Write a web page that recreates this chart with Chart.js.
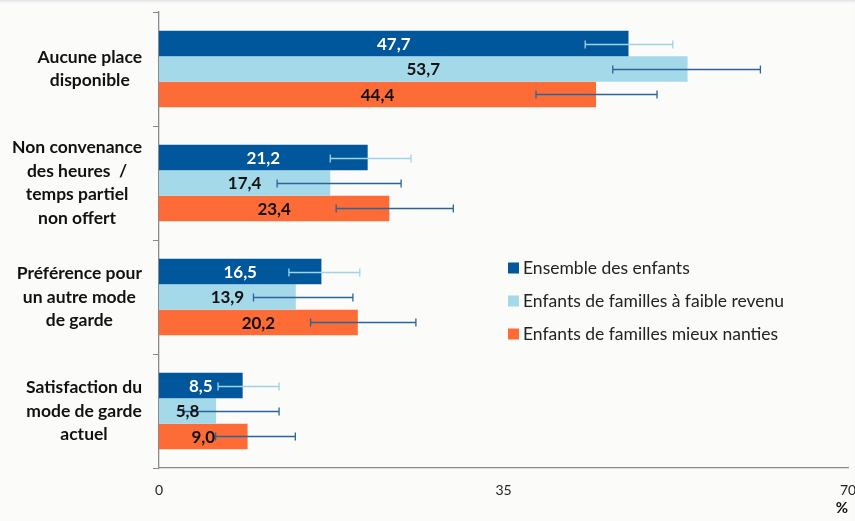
<!DOCTYPE html>
<html><head><meta charset="utf-8">
<script src="https://cdn.jsdelivr.net/npm/chart.js@4.4.1/dist/chart.umd.min.js"></script>
<style>
html,body{margin:0;padding:0;background:#fbfbf9;}
#wrap{width:855px;height:521px;position:relative;box-shadow:inset 0 3px 3px -2px #d3dbe1;}
canvas{display:block;}
</style></head><body>
<div id="wrap"><canvas id="c" width="855" height="521"></canvas></div>
<script>
// ---- data ----
const categories = [
  ["Aucune place", "disponible"],
  ["Non convenance", "des heures  /", "temps partiel", "non offert"],
  ["Préférence pour", "un autre mode", "de garde"],
  ["Satisfaction du", "mode de garde", "actuel"]
];
const seriesNames = ["Ensemble des enfants", "Enfants de familles à faible revenu", "Enfants de familles mieux nanties"];
const ensemble = [47.7, 21.2, 16.5, 8.5];
const faibleRevenu = [53.7, 17.4, 13.9, 5.8];
const mieuxNanties = [44.4, 23.4, 20.2, 9.0];
const ensembleLow = [43.3, 17.4, 13.2, 6.0];
const ensembleHigh = [52.2, 25.6, 20.4, 12.2];
const faibleLow = [46.1, 12.0, 9.6, 2.5];
const faibleHigh = [61.1, 24.6, 19.7, 12.2];
const mieuxLow = [38.3, 18.0, 15.4, 5.75];
const mieuxHigh = [50.6, 29.9, 26.1, 13.85];
const xTicks = [0, 35, 70];
const axisUnit = "%";

// ---- styles ----
const barColors = ["#01579b", "#a4d9ea", "#fd6b37"];
const errColors = ["#9fd3e7", "#2b639b", "#2b639b"];
const labelColors = ["#ffffff", "#111111", "#111111"];
const values = [ensemble, faibleRevenu, mieuxNanties];
const lows = [ensembleLow, faibleLow, mieuxLow];
const highs = [ensembleHigh, faibleHigh, mieuxHigh];
const FONT = "Lato";

const overlay = {
  id: "overlay",
  afterDatasetsDraw(chart) {
    const ctx = chart.ctx, xs = chart.scales.x;
    ctx.save();
    // error bars
    values.forEach((vals, i) => {
      const meta = chart.getDatasetMeta(i);
      meta.data.forEach((bar, j) => {
        const lo = xs.getPixelForValue(lows[i][j]);
        const hi = xs.getPixelForValue(highs[i][j]);
        const y = Math.round(bar.y) + 0.5;
        ctx.strokeStyle = errColors[i];
        ctx.lineWidth = 1.3;
        ctx.beginPath();
        ctx.moveTo(lo, y); ctx.lineTo(hi, y);
        ctx.moveTo(lo, y - 4); ctx.lineTo(lo, y + 4);
        ctx.moveTo(hi, y - 4); ctx.lineTo(hi, y + 4);
        ctx.stroke();
      });
    });
    // value labels
    ctx.font = "bold 17px " + FONT;
    ctx.textAlign = "center";
    ctx.textBaseline = "middle";
    values.forEach((vals, i) => {
      const meta = chart.getDatasetMeta(i);
      meta.data.forEach((bar, j) => {
        ctx.fillStyle = labelColors[i];
        ctx.fillText(vals[j].toFixed(1).replace(".", ","), (bar.base + bar.x) / 2, bar.y + 1);
      });
    });
    ctx.restore();
  },
  afterDraw(chart) {
    const ctx = chart.ctx, ys = chart.scales.y;
    ctx.save();
    // category labels (block right-aligned, lines centred)
    ctx.font = "bold 17.5px " + FONT;
    ctx.fillStyle = "#111111";
    ctx.textAlign = "center";
    ctx.textBaseline = "middle";
    const lh = 23.5;
    categories.forEach((lines, i) => {
      const yc = ys.getPixelForValue(i);
      const w = Math.max(...lines.map(l => ctx.measureText(l.trim()).width));
      const cx = ys.right - 17 - w / 2;
      lines.forEach((l, k) => {
        ctx.fillText(l, cx, yc + (k - (lines.length - 1) / 2) * lh);
      });
    });
    // legend
    ctx.font = "17.5px " + FONT;
    ctx.textAlign = "left";
    seriesNames.forEach((name, i) => {
      const y = 268 + i * 33;
      ctx.fillStyle = barColors[i];
      ctx.fillRect(508, y - 5.5, 11, 11);
      ctx.fillStyle = "#222222";
      ctx.fillText(name, 523, y);
    });
    ctx.restore();
  }
};

new Chart(document.getElementById("c"), {
  type: "bar",
  data: {
    labels: categories,
    datasets: values.map((v, i) => ({
      label: seriesNames[i],
      data: v,
      backgroundColor: barColors[i],
      borderWidth: 0,
      barPercentage: 1,
      categoryPercentage: 0.67
    }))
  },
  options: {
    indexAxis: "y",
    responsive: false,
    animation: false,
    devicePixelRatio: 1,
    layout: { padding: { top: 12, right: 0, left: 0, bottom: 0 } },
    plugins: { legend: { display: false }, tooltip: { enabled: false } },
    scales: {
      x: {
        min: 0, max: 70,
        afterBuildTicks: s => { s.ticks = xTicks.map(v => ({ value: v })); },
        grid: { display: false, drawTicks: false },
        border: { display: true, color: "#8a8a8a", width: 1.3 },
        ticks: { font: { family: FONT, size: 14 }, color: "#222222", padding: 14, maxRotation: 0, callback: v => String(v) },
        title: { display: true, text: axisUnit, align: "end", color: "#111111", font: { family: FONT, size: 15, weight: "bold" }, padding: { top: 0, bottom: 4 } },
        afterFit: s => { s.height = 53; s.paddingRight = 7; s.paddingLeft = 0; }
      },
      y: {
        grid: { display: true, drawOnChartArea: false, drawTicks: true, tickLength: 6, color: "#8a8a8a", offset: true },
        border: { display: true, color: "#8a8a8a", width: 1.3 },
        ticks: { display: false },
        afterFit: s => { s.width = 159; }
      }
    }
  },
  plugins: [overlay]
});
</script>
</body></html>
